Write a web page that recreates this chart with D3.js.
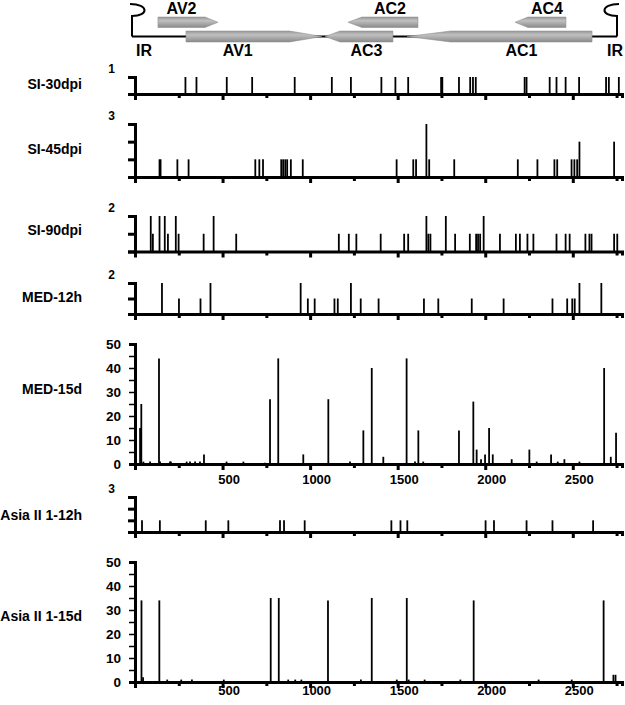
<!DOCTYPE html>
<html>
<head>
<meta charset="utf-8">
<script src="https://cdn.jsdelivr.net/npm/d3@7"></script>
<style>
  body { margin: 0; background: #fff; }
  svg text { font-family: "Liberation Sans", Arial, sans-serif; font-weight: bold; fill: #000; }
</style>
</head>
<body>
<div id="chart"></div>
<script>
// genome length (nt) and x ticks
const genomeLength = 2781;
const xTicks = [0, 250, 500, 750, 1000, 1250, 1500, 1750, 2000, 2250, 2500, 2750];
const xLabels = [500, 1000, 1500, 2000, 2500];

// genome map: ORFs
const geneNames   = ["AV2", "AV1", "AC3", "AC2", "AC1", "AC4"];
const geneStarts  = [131, 291, 1085, 1216, 1553, 2170];
const geneEnds    = [474, 1068, 1473, 1616, 2610, 2461];
const geneHeads   = [74, 185, 86, 80, 250, 74];
const geneStrands = [1, 1, -1, -1, -1, -1];
const geneRows    = [0, 1, 1, 0, 1, 0];

// sample names and y maxima
const sampleNames = ["SI-30dpi", "SI-45dpi", "SI-90dpi", "MED-12h", "MED-15d", "Asia II 1-12h", "Asia II 1-15d"];
const sampleMax   = [1, 3, 2, 2, 50, 3, 50];

// [position, count]
const si30dpi = [[288,1],[351,1],[524,1],[669,1],[912,1],[1124,1],[1233,1],[1407,1],[1487,1],[1560,1],
  [1748,1],[1755,1],[1850,1],[1914,1],[1930,1],[1946,1],[2225,1],[2236,1],[2368,1],[2407,1],[2459,1],
  [2536,1],[2690,1],[2706,1],[2763,1]];
const si45dpi = [[140,1],[146,1],[242,1],[306,1],[687,1],[710,1],[731,1],[835,1],[846,1],[858,1],[869,1],
  [890,1],[958,1],[1494,1],[1589,1],[1605,1],[1664,3],[1680,1],[1823,1],[2186,1],[2298,1],[2395,1],
  [2411,1],[2493,1],[2509,1],[2525,1],[2538,2],[2736,2]];
const si90dpi = [[90,2],[102,1],[140,2],[170,2],[188,1],[233,2],[249,1],[392,1],[449,2],[578,1],[1164,1],
  [1221,1],[1264,1],[1403,1],[1537,1],[1560,1],[1664,2],[1675,1],[1687,1],[1775,2],[1828,1],[1912,1],
  [1948,1],[1959,1],[1971,1],[1991,2],[2084,1],[2175,1],[2198,1],[2241,1],[2275,1],[2407,1],[2459,1],
  [2482,1],[2572,1],[2595,1],[2607,1],[2736,1],[2754,1]];
const med12h = [[154,2],[251,1],[374,1],[431,2],[946,2],[987,1],[1026,1],[1139,1],[1158,1],[1233,2],
  [1289,1],[1391,1],[1650,1],[1732,1],[1923,1],[2105,1],[2384,1],[2468,1],[2497,1],[2511,1],[2538,2],[2663,2]];
const med15d = [[29,15],[36,25],[48,1],[86,1],[137,44],[143,1],[200,1],[205,1],[295,1],[314,1],[343,1],
  [371,1],[394,4],[523,1],[619,1],[742,0.5],[771,27],[818,44],[961,4],[1104,27],[1228,1],[1304,14],
  [1352,40],[1418,3],[1551,44],[1599,1],[1618,14],[1646,1],[1850,14],[1932,26],[1951,6],[1976,2],
  [1999,4],[2022,15],[2043,4],[2151,2],[2252,6],[2294,1],[2376,4],[2414,1],[2452,2],[2538,1],
  [2679,40],[2717,3],[2747,13]];
const asia12h = [[40,1],[142,1],[404,1],[533,1],[828,1],[851,1],[969,1],[1464,1],[1516,1],[1555,1],
  [2002,1],[2050,1],[2236,1],[2384,1],[2616,1]];
const asia15d = [[37,34],[46,2],[139,34],[184,1],[264,1],[325,1],[507,1],[775,35],[821,35],[875,1],
  [915,1],[950,1],[1102,34],[1290,1],[1352,35],[1495,1],[1552,35],[1563,1],[1654,1],[1858,1],
  [1934,34],[2305,1],[2494,1],[2676,34],[2732,3],[2744,3]];
const sampleData = [si30dpi, si45dpi, si90dpi, med12h, med15d, asia12h, asia15d];

// layout (pixel positions of each panel)
const width = 625, height = 705;
const panelTop  = [77, 124, 216, 283, 344, 497, 562];
const panelBase = [94, 177, 251.5, 314, 464, 532, 682];
const labelY    = [84, 149, 230, 297, 389, 515, 616];
const xLabelPad = [3, 3, 3, 3, 7, 3, 0];

const svg = d3.select("#chart").append("svg")
  .attr("width", width)
  .attr("height", height);

const x = d3.scaleLinear()
  .domain([0, genomeLength])
  .range([135, 622]);

// ---- genome map ----
const defs = svg.append("defs");
const grad = defs.append("linearGradient")
  .attr("id", "geneFill")
  .attr("x1", 0).attr("y1", 0).attr("x2", 0).attr("y2", 1);
grad.append("stop").attr("offset", "0%").attr("stop-color", "#989898");
grad.append("stop").attr("offset", "35%").attr("stop-color", "#c0c0c0");
grad.append("stop").attr("offset", "100%").attr("stop-color", "#8a8a8a");

const rowY = [[17, 27.5], [31, 42]];
const mapLineY = 36.5;
const map = svg.append("g").attr("class", "genome-map");

const irLeft = x(0) - 3, irRight = x(genomeLength) - 5;
map.append("line")
  .attr("x1", irLeft).attr("x2", irRight)
  .attr("y1", mapLineY).attr("y2", mapLineY)
  .attr("stroke", "#000").attr("stroke-width", 2);

// IR stem-loops
map.append("path")
  .attr("d", `M${irLeft},${mapLineY} V16 C${irLeft + 17},16 ${irLeft + 17},4 ${irLeft - 2},4`)
  .attr("fill", "none").attr("stroke", "#000").attr("stroke-width", 2);
map.append("path")
  .attr("d", `M${irRight},${mapLineY} V16 C${irRight - 17},16 ${irRight - 17},4 ${irRight + 2},4`)
  .attr("fill", "none").attr("stroke", "#000").attr("stroke-width", 2);

const genes = geneNames.map((name, i) => ({
  name, start: geneStarts[i], end: geneEnds[i], head: geneHeads[i],
  strand: geneStrands[i], row: geneRows[i]
}));

function genePath(g) {
  const [y0, y1] = rowY[g.row];
  const ym = (y0 + y1) / 2;
  const a = x(g.start), b = x(g.end);
  if (g.strand > 0) {
    const h = x(g.end - g.head);
    return `M${a},${y0} H${h} L${b},${ym} L${h},${y1} H${a} Z`;
  }
  const h = x(g.start + g.head);
  return `M${b},${y0} H${h} L${a},${ym} L${h},${y1} H${b} Z`;
}

map.selectAll(".gene")
  .data(genes)
  .enter()
  .append("path")
  .attr("class", "gene")
  .attr("d", genePath)
  .attr("fill", "url(#geneFill)")
  .attr("stroke", "#888")
  .attr("stroke-width", 0.5);

map.selectAll(".gene-label")
  .data(genes)
  .enter()
  .append("text")
  .attr("class", "gene-label")
  .attr("x", g => g.strand > 0 ? x((g.start + g.end - g.head) / 2) : x((g.start + g.head + g.end) / 2))
  .attr("y", g => g.row === 0 ? 13.5 : 56)
  .attr("text-anchor", "middle")
  .style("font-size", "16px")
  .text(g => g.name);

map.append("text").attr("x", irLeft + 12).attr("y", 56).attr("text-anchor", "middle")
  .style("font-size", "16px").text("IR");
map.append("text").attr("x", irRight - 2).attr("y", 56).attr("text-anchor", "middle")
  .style("font-size", "16px").text("IR");

// ---- sample panels ----
sampleNames.forEach((name, i) => {
  const yMax = sampleMax[i];
  const big = yMax > 10;
  const y = d3.scaleLinear()
    .domain([0, yMax])
    .range([panelBase[i], panelTop[i]]);

  const g = svg.append("g").attr("class", "panel");

  // sample label
  g.append("text")
    .attr("x", 82)
    .attr("y", labelY[i])
    .attr("dy", "0.35em")
    .attr("text-anchor", "end")
    .style("font-size", "14px")
    .text(name);

  // bars
  g.selectAll(".bar")
    .data(sampleData[i])
    .enter()
    .append("line")
    .attr("class", "bar")
    .attr("x1", d => x(d[0])).attr("x2", d => x(d[0]))
    .attr("y1", y(0)).attr("y2", d => y(d[1]))
    .attr("stroke", "#000")
    .attr("stroke-width", 1.8);

  // x axis
  const xAxis = g.append("g")
    .attr("transform", `translate(0,${panelBase[i]})`)
    .call(d3.axisBottom(x)
      .tickValues(xTicks)
      .tickSize(4)
      .tickSizeOuter(4)
      .tickPadding(xLabelPad[i])
      .tickFormat(d => big && xLabels.includes(d) ? d : ""));
  xAxis.select(".domain").attr("stroke-width", 3);
  xAxis.selectAll(".tick line")
    .attr("stroke-width", 3)
    .attr("y2", d => d % 500 === 0 ? 6 : 4);
  xAxis.selectAll(".tick text")
    .attr("dx", 6)
    .style("font-size", "13px");

  // y axis
  let yTicks, yLabelFn;
  if (big) {
    yTicks = d3.range(0, yMax + 1, 5);
    yLabelFn = d => d % 10 === 0 ? d : "";
  } else {
    yTicks = d3.range(0, yMax + 1, 1);
    yLabelFn = d => d === yMax ? d : "";
  }
  const yAxis = g.append("g")
    .attr("transform", `translate(${x(0)},0)`)
    .call(d3.axisLeft(y)
      .tickValues(yTicks)
      .tickSize(big ? 6 : 7)
      .tickSizeOuter(big ? 6 : 7)
      .tickPadding(big ? 8 : 10)
      .tickFormat(yLabelFn));
  yAxis.select(".domain").attr("stroke-width", 3);
  yAxis.selectAll(".tick line").attr("stroke-width", big ? 1.5 : 3);
  yAxis.selectAll(".tick text").style("font-size", big ? "13.5px" : "12px");
  if (!big) {
    // the maximum is written above the axis top
    yAxis.selectAll(".tick text")
      .attr("dy", "-0.4em")
      .attr("x", -20);
  }
});
</script>
</body>
</html>
